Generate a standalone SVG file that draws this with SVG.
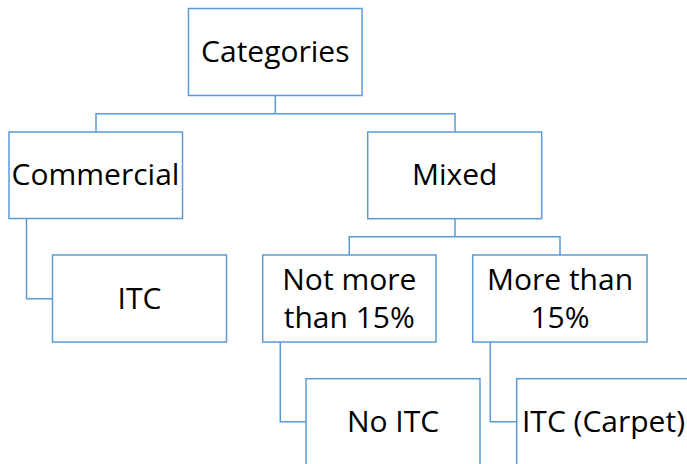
<svg xmlns="http://www.w3.org/2000/svg" width="687" height="464" viewBox="0 0 687 464">
<style>
.box{fill:#fff;stroke:#5B9BD5;stroke-width:1.5}
.ln{fill:none;stroke:#5B9BD5;stroke-width:1.5}
text{font-family:"Open Sans","Liberation Sans",sans-serif;font-size:30px;fill:#000;text-anchor:middle}
</style>
<rect width="687" height="464" fill="#fff"/>
<g id="connectors">
<path class="ln" d="M275.3,95.5V113.7M96,132V113.7H455V132"/>
<path class="ln" d="M26.5,218.5V298.7H52.5"/>
<path class="ln" d="M455,218.7V236.7M349.3,255V236.7H560V255"/>
<path class="ln" d="M280.3,342V421.7H306"/>
<path class="ln" d="M490.3,342V421.7H516.7"/>
</g>
<g id="categories"><rect class="box" x="188.5" y="8.5" width="173.5" height="87"/><text x="275.3" y="62">Categories</text></g>
<g id="commercial"><rect class="box" x="9" y="132" width="173.5" height="86.5"/><text x="95.5" y="185.3">Commercial</text></g>
<g id="mixed"><rect class="box" x="367.7" y="132" width="174" height="86.7"/><text x="454.7" y="185.3">Mixed</text></g>
<g id="itc"><rect class="box" x="52.5" y="255" width="174" height="87"/><text x="139.5" y="309.3">ITC</text></g>
<g id="not-more"><rect class="box" x="262.7" y="255" width="173.3" height="87"/><text x="349.3" y="290">Not more</text><text x="349.3" y="327.5">than 15%</text></g>
<g id="more-than"><rect class="box" x="472.7" y="255" width="174.3" height="87"/><text x="560" y="290">More than</text><text x="560" y="327.5">15%</text></g>
<g id="no-itc"><rect class="box" x="306" y="378.7" width="174" height="100"/><text x="393" y="432">No ITC</text></g>
<g id="itc-carpet"><rect class="box" x="516.7" y="378.7" width="174" height="100"/><text x="603.5" y="432">ITC (Carpet)</text></g>
</svg>
